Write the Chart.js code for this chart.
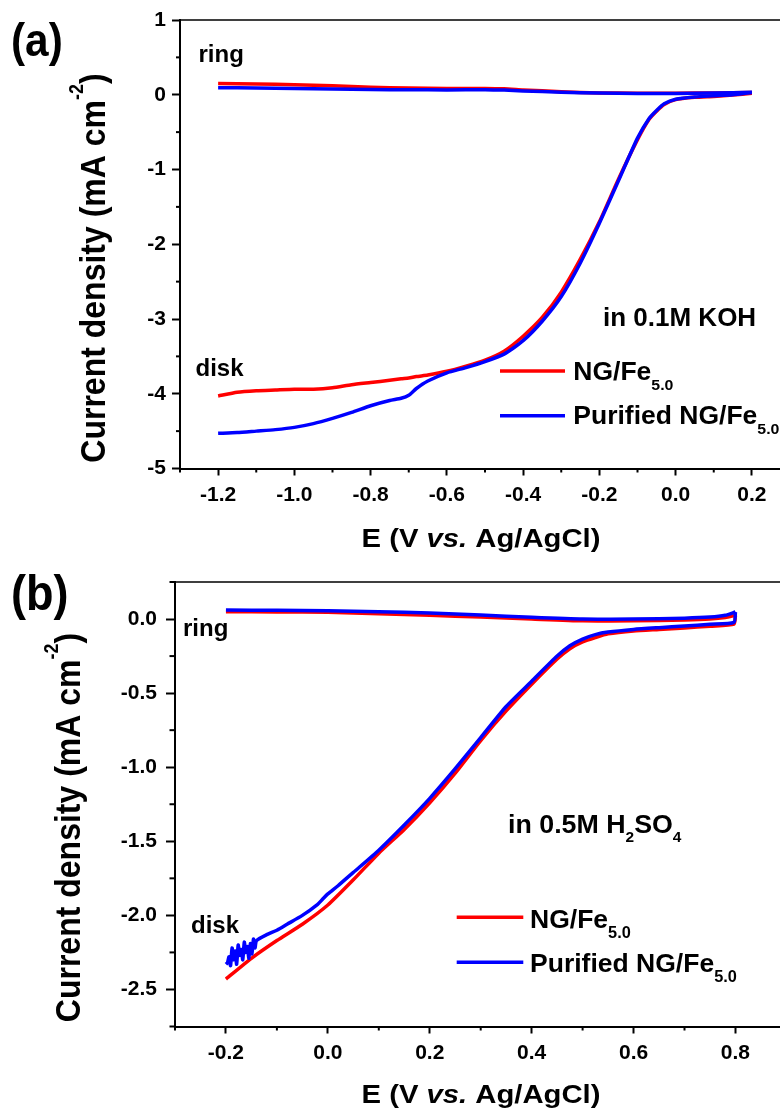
<!DOCTYPE html>
<html><head><meta charset="utf-8">
<script src="https://cdn.jsdelivr.net/npm/chart.js@4.4.1/dist/chart.umd.min.js"></script>
<style>
html,body{margin:0;padding:0;background:#fff;}
#wrap{position:relative;width:780px;height:1114px;overflow:hidden;background:#fff;}
canvas{position:absolute;left:0;}
#ca{top:0;} #cb{top:560px;}
</style></head><body>
<div id="wrap"><canvas id="ca" width="800" height="560"></canvas><canvas id="cb" width="800" height="554"></canvas></div>
<script>
// ---------- Panel (a): 0.1 M KOH ----------
const aDiskE = [-1.2,-1.15,-1.1,-1.05,-1.0,-0.95,-0.9,-0.85,-0.8,-0.75,-0.72,-0.7,-0.68,-0.65,-0.6,-0.55,-0.5,-0.45,-0.4,-0.35,-0.3,-0.25,-0.2,-0.15,-0.1,-0.07,-0.05,-0.03,0.0,0.05,0.1,0.15,0.2];
const aDiskNG = [-4.03,-3.98,-3.96,-3.95,-3.94,-3.94,-3.92,-3.88,-3.85,-3.82,-3.80,-3.79,-3.77,-3.75,-3.70,-3.63,-3.55,-3.43,-3.23,-2.98,-2.64,-2.20,-1.70,-1.13,-0.60,-0.33,-0.22,-0.13,-0.065,-0.035,-0.022,-0.005,0.02];
const aDiskPur = [-4.53,-4.52,-4.50,-4.48,-4.45,-4.40,-4.33,-4.25,-4.16,-4.09,-4.06,-4.02,-3.93,-3.83,-3.72,-3.65,-3.57,-3.47,-3.29,-3.03,-2.70,-2.25,-1.72,-1.15,-0.58,-0.32,-0.21,-0.12,-0.06,-0.03,-0.015,0.0,0.03];
const aRingE = [-1.2,-1.1,-1.0,-0.9,-0.8,-0.7,-0.6,-0.5,-0.45,-0.4,-0.3,-0.2,-0.1,0.0,0.1,0.2];
const aRingNG = [0.15,0.145,0.135,0.12,0.10,0.09,0.085,0.085,0.08,0.065,0.04,0.025,0.02,0.02,0.025,0.03];
const aRingPur = [0.095,0.09,0.085,0.078,0.07,0.066,0.065,0.068,0.062,0.05,0.035,0.022,0.017,0.016,0.022,0.035];
const aXRange = [-1.3, 0.3], aXStep = 0.1;
const aYRange = [-5, 1], aYStep = 0.5;

// ---------- Panel (b): 0.5 M H2SO4 ----------
const bRingE = [-0.2,-0.1,0.0,0.1,0.2,0.3,0.4,0.5,0.6,0.7,0.75,0.78,0.8];
const bRingNG = [0.05,0.048,0.045,0.035,0.025,0.013,0.0,-0.012,-0.012,-0.006,0.0,0.01,0.025];
const bRingPur = [0.061,0.059,0.056,0.05,0.04,0.027,0.012,0.0,0.0,0.006,0.013,0.025,0.048];
const bDiskE_NG = [0.8,0.797,0.75,0.7,0.65,0.6,0.55,0.525,0.5,0.475,0.45,0.4,0.35,0.3,0.25,0.2,0.15,0.1,0.05,0.0,-0.05,-0.1,-0.15,-0.2];
const bDiskNG = [0.025,-0.035,-0.048,-0.06,-0.07,-0.08,-0.10,-0.125,-0.155,-0.20,-0.27,-0.44,-0.62,-0.82,-1.04,-1.24,-1.42,-1.58,-1.76,-1.93,-2.06,-2.17,-2.29,-2.43];
const bDiskE_Pur = [0.8,0.797,0.75,0.7,0.65,0.6,0.55,0.525,0.5,0.475,0.45,0.4,0.35,0.3,0.25,0.2,0.15,0.1,0.05,0.02,0.0,-0.01,-0.02,-0.05,-0.08,-0.1,-0.12,
  -0.14,-0.143,-0.146,-0.149,-0.152,-0.155,-0.158,-0.161,-0.164,-0.167,-0.17,-0.173,-0.176,-0.179,-0.182,-0.185,-0.188,-0.191,-0.194,-0.197,-0.2];
const bDiskPur = [0.048,-0.022,-0.035,-0.047,-0.058,-0.07,-0.088,-0.105,-0.135,-0.18,-0.25,-0.42,-0.59,-0.80,-1.01,-1.21,-1.39,-1.56,-1.71,-1.80,-1.855,-1.89,-1.925,-2.00,-2.06,-2.10,-2.13,
  -2.17,-2.22,-2.16,-2.26,-2.19,-2.29,-2.21,-2.25,-2.18,-2.30,-2.23,-2.27,-2.20,-2.33,-2.24,-2.30,-2.22,-2.34,-2.28,-2.32,-2.33];
const bXRange = [-0.3, 0.9], bXStep = 0.1;
const bYRange = [-2.75, 0.25], bYStep = 0.25;

const seriesNames = ['NG/Fe', 'Purified NG/Fe'];
const seriesSub = '5.0';
const RED = '#ff0000', BLUE = '#0000ff';

const FONT = '"Liberation Sans", Arial, Helvetica, sans-serif';
function fnt(size, italic){ return (italic ? 'italic ' : '') + 'bold ' + size + 'px ' + FONT; }
function pts(xs, ys){ return xs.map((x, i) => ({x: x, y: ys[i]})); }

function drawRuns(ctx, runs, x, y, o){
  o = o || {};
  ctx.save();
  ctx.translate(x, y);
  if (o.rot) ctx.rotate(-Math.PI / 2);
  ctx.scale(o.sx || 1, o.sy || 1);
  ctx.fillStyle = '#000'; ctx.textBaseline = 'alphabetic'; ctx.textAlign = 'left';
  let w = 0;
  runs.forEach(r => { ctx.font = fnt(r.s, r.i); w += ctx.measureText(r.t).width; });
  let cx = o.center ? -w / 2 : 0;
  runs.forEach(r => { ctx.font = fnt(r.s, r.i); ctx.fillText(r.t, cx, r.dy || 0); cx += ctx.measureText(r.t).width; });
  ctx.restore();
}
function hline(ctx, x1, x2, y, color, w){
  ctx.save(); ctx.strokeStyle = color; ctx.lineWidth = w; ctx.beginPath(); ctx.moveTo(x1, y); ctx.lineTo(x2, y); ctx.stroke(); ctx.restore();
}

const majX = v => Math.abs(Math.round(v * 10)) % 2 === 0;
const majYa = v => Math.abs(Math.round(v * 2)) % 2 === 0;
const majYb = v => Math.abs(Math.round(v * 4)) % 2 === 0;
const fmt1 = v => (Math.round(v * 10) / 10 + 0).toFixed(1);
const fmt0 = v => String(Math.round(v) + 0);

function makeChart(id, d){
  const TICKF = {family: FONT, size: 21, weight: 'bold'};
  const framePlugin = {
    id: 'frame',
    afterDraw(chart){
      const ctx = chart.ctx, a = chart.chartArea;
      ctx.save(); ctx.strokeStyle = '#000'; ctx.lineWidth = 1.6;
      ctx.beginPath(); ctx.moveTo(a.left, a.top); ctx.lineTo(a.right, a.top); ctx.lineTo(a.right, a.bottom); ctx.stroke();
      ctx.lineWidth = 2;
      const sx = chart.scales.x, sy = chart.scales.y;
      sx.ticks.forEach(t => { if (!d.majX(t.value)) { const p = sx.getPixelForValue(t.value); ctx.beginPath(); ctx.moveTo(p, a.bottom); ctx.lineTo(p, a.bottom + d.minorX); ctx.stroke(); } });
      sy.ticks.forEach(t => { if (!d.majY(t.value)) { const p = sy.getPixelForValue(t.value); ctx.beginPath(); ctx.moveTo(a.left, p); ctx.lineTo(a.left - d.minorY, p); ctx.stroke(); } });
      ctx.restore();
      d.texts(ctx);
    }
  };
  return new Chart(document.getElementById(id), {
    type: 'line',
    data: { datasets: d.datasets.map(s => ({
      data: s.data, borderColor: s.color, borderWidth: 3.5, pointRadius: 0, tension: 0.2, fill: false, order: s.order
    })) },
    options: {
      responsive: false, animation: false, devicePixelRatio: 1, events: [],
      layout: { padding: { top: d.padTop, right: d.padRight, left: 0, bottom: 0 } },
      plugins: { legend: { display: false }, tooltip: { enabled: false } },
      scales: {
        x: {
          type: 'linear', position: 'bottom', min: d.xr[0], max: d.xr[1],
          ticks: { stepSize: d.xs, autoSkip: false, maxRotation: 0, minRotation: 0, color: '#000', font: TICKF, padding: d.xPad,
                   callback: v => d.majX(v) ? fmt1(v) : '' },
          grid: { display: true, drawOnChartArea: false, drawTicks: true, tickLength: d.tlX, tickWidth: 2,
                  tickColor: c => (c.tick && d.majX(c.tick.value)) ? '#000' : 'rgba(0,0,0,0)' },
          border: { display: true, color: '#000', width: 2 },
          afterFit: s => { s.height = d.xH; }
        },
        y: {
          type: 'linear', position: 'left', min: d.yr[0], max: d.yr[1],
          ticks: { stepSize: d.ys, autoSkip: false, color: '#000', font: TICKF, padding: d.yPad,
                   callback: v => d.majY(v) ? d.fmtY(v) : '' },
          grid: { display: true, drawOnChartArea: false, drawTicks: true, tickLength: d.tlY, tickWidth: 2,
                  tickColor: c => (c.tick && d.majY(c.tick.value)) ? '#000' : 'rgba(0,0,0,0)' },
          border: { display: true, color: '#000', width: 2 },
          afterFit: s => { s.width = d.yW; }
        }
      }
    },
    plugins: [framePlugin]
  });
}

// ---- chart (a) ----
makeChart('ca', {
  xr: aXRange, xs: aXStep, yr: aYRange, ys: aYStep, majX: majX, majY: majYa, fmtY: fmt0,
  padTop: 20, padRight: 10, xH: 91.5, yW: 180, tlX: 7, tlY: 8, minorX: 4, minorY: 4, xPad: 7, yPad: 6,
  datasets: [
    {data: pts(aRingE, aRingNG), color: RED, order: 2},
    {data: pts(aDiskE, aDiskNG), color: RED, order: 2},
    {data: pts(aRingE, aRingPur), color: BLUE, order: 1},
    {data: pts(aDiskE, aDiskPur), color: BLUE, order: 1}
  ],
  texts(ctx){
    drawRuns(ctx, [{t:'(a)', s:46}], 11, 55.5, {sx: 0.92});
    drawRuns(ctx, [{t:'ring', s:24}], 198.5, 61.7);
    drawRuns(ctx, [{t:'disk', s:24}], 195.5, 375.5);
    drawRuns(ctx, [{t:'in 0.1M KOH', s:25}], 603, 325.7, {sx: 1.04});
    hline(ctx, 500, 565, 371, RED, 3.5);
    hline(ctx, 500, 565, 415.7, BLUE, 3.5);
    drawRuns(ctx, [{t:seriesNames[0], s:25},{t:seriesSub, s:15, dy:10}], 573.3, 380, {sx: 1.06});
    drawRuns(ctx, [{t:seriesNames[1], s:25},{t:seriesSub, s:15, dy:10}], 573.3, 424, {sx: 1.06});
    drawRuns(ctx, [{t:'Current density (mA cm', s:32},{t:'-2', s:18, dy:-20},{t:')', s:32}], 105, 268, {rot: true, sy: 1.1, center: true});
    drawRuns(ctx, [{t:'E (V ', s:25},{t:'vs.', s:25, i:true},{t:' Ag/AgCl)', s:25}], 481, 547, {sx: 1.17, center: true});
  }
});

// ---- chart (b) ----
const OB = 560;
makeChart('cb', {
  xr: bXRange, xs: bXStep, yr: bYRange, ys: bYStep, majX: majX, majY: majYb, fmtY: fmt1,
  padTop: 22, padRight: 13.6, xH: 87.5, yW: 175, tlX: 7, tlY: 9, minorX: 4, minorY: 5.5, xPad: 7, yPad: 9,
  datasets: [
    {data: pts(bRingE, bRingNG), color: RED, order: 2},
    {data: pts(bDiskE_NG, bDiskNG), color: RED, order: 2},
    {data: pts(bRingE, bRingPur), color: BLUE, order: 1},
    {data: pts(bDiskE_Pur, bDiskPur), color: BLUE, order: 1}
  ],
  texts(ctx){
    drawRuns(ctx, [{t:'(b)', s:50}], 11, 610 - OB, {sx: 0.9});
    drawRuns(ctx, [{t:'ring', s:24}], 183, 636 - OB);
    drawRuns(ctx, [{t:'disk', s:24}], 191, 933.3 - OB);
    drawRuns(ctx, [{t:'in 0.5M H', s:26},{t:'2', s:15, dy:9},{t:'SO', s:26},{t:'4', s:15, dy:9}], 508, 833.3 - OB, {sx: 1.03});
    hline(ctx, 456.7, 523.3, 917.3 - OB, RED, 3.5);
    hline(ctx, 456.7, 523.3, 962.3 - OB, BLUE, 3.5);
    drawRuns(ctx, [{t:seriesNames[0], s:26},{t:seriesSub, s:16, dy:10}], 530, 928 - OB, {sx: 1.02});
    drawRuns(ctx, [{t:seriesNames[1], s:26},{t:seriesSub, s:16, dy:10}], 530, 971.7 - OB, {sx: 1.02});
    drawRuns(ctx, [{t:'Current density (mA cm', s:32},{t:'-2', s:18, dy:-20},{t:')', s:32}], 80, 827.5 - OB, {rot: true, sy: 1.1, center: true});
    drawRuns(ctx, [{t:'E (V ', s:25},{t:'vs.', s:25, i:true},{t:' Ag/AgCl)', s:25}], 481, 1103 - OB, {sx: 1.17, center: true});
  }
});
</script>
</body></html>
